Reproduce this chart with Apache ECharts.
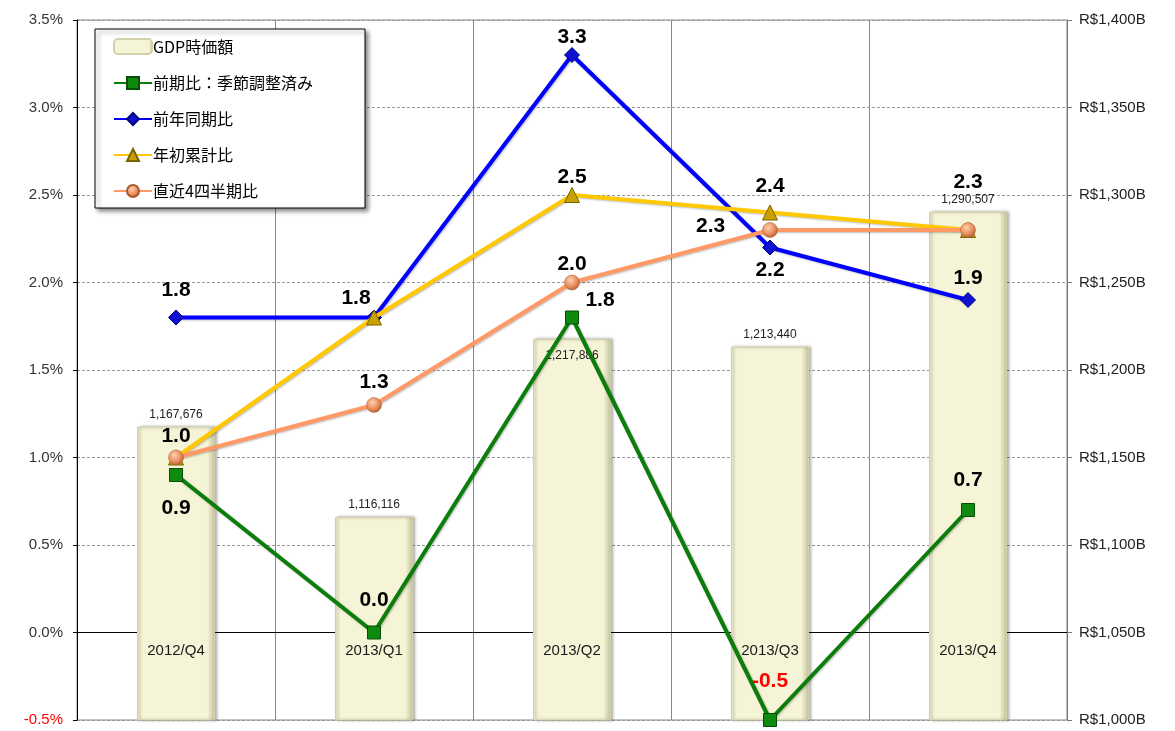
<!DOCTYPE html>
<html>
<head>
<meta charset="utf-8">
<script src="https://cdn.jsdelivr.net/npm/echarts@6/dist/echarts.min.js"></script>
<style>
html, body { margin: 0; padding: 0; background: #fff; }
#chart { width: 1175px; height: 731px; }
</style>
</head>
<body>
<div id="chart"></div>
<script>
// 四半期
var quarters = ['2012/Q4', '2013/Q1', '2013/Q2', '2013/Q3', '2013/Q4'];
// GDP時価額 (R$ 百万)
var gdpValues = [1167676, 1116116, 1217886, 1213440, 1290507];
// 前期比：季節調整済み
var qoqSa = [0.9, 0.0, 1.8, -0.5, 0.7];
// 前年同期比
var yoy = [1.8, 1.8, 3.3, 2.2, 1.9];
// 年初累計比
var ytd = [1.0, 1.8, 2.5, 2.4, 2.3];
// 直近4四半期比
var last4q = [1.0, 1.3, 2.0, 2.3, 2.3];

var font = '"Liberation Sans", Arial, "Noto Sans CJK JP", sans-serif';

var lbl = function (pos, extra) {
    return Object.assign({
        show: true,
        position: pos,
        fontFamily: font,
        fontSize: 21,
        fontWeight: 'bold',
        color: '#000',
        formatter: function (p) { return p.value.toFixed(1); }
    }, extra || {});
};

function withLabels(values, labels) {
    return values.map(function (v, i) {
        return { value: v, label: labels[i] };
    });
}

var chart = echarts.init(document.getElementById('chart'));

chart.setOption({
    animation: false,
    textStyle: { fontFamily: font },
    grid: {
        left: 77, right: 108, top: 20, bottom: 11,
        containLabel: false,
        outerBoundsMode: 'none',
        show: true, borderColor: '#888', borderWidth: 1
    },
    legend: {
        orient: 'vertical',
        left: 95,
        top: 29,
        width: 270,
        padding: [9, 52, 9, 18],
        itemGap: 20,
        itemWidth: 38,
        itemHeight: 15,
        backgroundColor: '#fff',
        borderColor: '#000',
        borderWidth: 1,
        shadowColor: 'rgba(0,0,0,0.45)',
        shadowBlur: 4,
        shadowOffsetX: 3,
        shadowOffsetY: 3,
        textStyle: { fontSize: 16, color: '#000', fontFamily: '"Noto Sans CJK JP", "Liberation Sans", sans-serif', padding: [0, 0, 0, -4] },
        data: ['GDP時価額', '前期比：季節調整済み', '前年同期比', '年初累計比', '直近4四半期比']
    },
    xAxis: {
        type: 'category',
        data: quarters,
        boundaryGap: true,
        axisLine: { onZero: true, lineStyle: { color: '#000', width: 1 } },
        axisTick: { show: false },
        axisLabel: { show: false },
        splitLine: { show: true, lineStyle: { color: '#888', width: 1 } }
    },
    yAxis: [{
        type: 'value',
        min: -0.5,
        max: 3.5,
        interval: 0.5,
        axisLine: { show: true, onZero: false, lineStyle: { color: '#000' } },
        axisTick: { show: true, length: 4, lineStyle: { color: '#000' } },
        axisLabel: {
            fontSize: 15,
            margin: 14,
            formatter: function (v) { return v.toFixed(1) + '%'; },
            color: function (v) { return v < 0 ? '#ff0000' : '#333'; }
        },
        splitLine: { show: true, lineStyle: { color: '#999', type: [3, 2], width: 1 } }
    }, {
        type: 'value',
        min: 1000000,
        max: 1400000,
        interval: 50000,
        position: 'right',
        axisLine: { show: true, onZero: false, lineStyle: { color: '#777' } },
        axisTick: { show: true, length: 5, lineStyle: { color: '#777' } },
        axisLabel: {
            fontSize: 15,
            margin: 12,
            color: '#222',
            formatter: function (v) { return 'R$' + (v / 1000).toLocaleString('en-US') + 'B'; }
        },
        splitLine: { show: false }
    }],
    series: [{
        name: 'GDP時価額',
        type: 'bar',
        yAxisIndex: 1,
        barWidth: 78,
        clip: true,
        z: 1,
        itemStyle: {
            color: new echarts.graphic.LinearGradient(0, 0, 1, 0, [
                { offset: 0, color: '#ecebca' },
                { offset: 0.06, color: '#f5f4d6' },
                { offset: 0.9, color: '#f5f4d6' },
                { offset: 1, color: '#c2c19c' }
            ]),
            borderColor: '#d2d1aa',
            borderWidth: 1,
            shadowColor: 'rgba(0,0,0,0.3)',
            shadowBlur: 3,
            shadowOffsetX: 2
        },
        label: {
            show: true,
            position: 'top',
            distance: 6,
            fontSize: 12,
            color: '#222',
            formatter: function (p) { return p.value.toLocaleString('en-US'); }
        },
        data: gdpValues.map(function (v, i) {
            return i === 2 ? { value: v, label: { position: 'insideTop', distance: 11 } } : v;
        })
    }, {
        // 0%線のすぐ下に四半期名を出す (軸ラベルの代わり)
        name: 'quarterLabels',
        type: 'scatter',
        silent: true,
        symbolSize: 0,
        z: 3,
        itemStyle: { opacity: 1 },
        label: {
            show: true,
            position: 'bottom',
            distance: 11,
            fontSize: 15,
            color: '#1a1a1a',
            opacity: 1,
            formatter: function (p) { return quarters[p.dataIndex]; }
        },
        data: quarters.map(function () { return 0; })
    }, {
        name: '前期比：季節調整済み',
        type: 'line',
        z: 5,
        symbol: 'rect',
        symbolSize: 13,
        lineStyle: { color: '#0a7d0a', width: 4, shadowColor: 'rgba(0,0,0,0.25)', shadowBlur: 2, shadowOffsetX: 1, shadowOffsetY: 1 },
        itemStyle: { color: '#0e8a0e', borderColor: '#064d06', borderWidth: 1 },
        data: withLabels(qoqSa, [
            lbl('bottom', { distance: 16 }),
            lbl('top', { distance: 15 }),
            lbl('top', { offset: [28, 2], distance: 2 }),
            lbl('top', { distance: 21, color: '#ff0000' }),
            lbl('top', { distance: 12 })
        ])
    }, {
        name: '前年同期比',
        type: 'line',
        z: 6,
        symbol: 'diamond',
        symbolSize: 15,
        lineStyle: { color: '#0000ff', width: 4, shadowColor: 'rgba(0,0,0,0.25)', shadowBlur: 2, shadowOffsetX: 1, shadowOffsetY: 1 },
        itemStyle: { color: '#1010d0', borderColor: '#000080', borderWidth: 1 },
        data: withLabels(yoy, [
            lbl('top', { distance: 9 }),
            lbl('top', { distance: 1, offset: [-18, 0] }),
            lbl('top', { distance: -1 }),
            lbl('bottom', { distance: 4 }),
            lbl('top', { distance: 3 })
        ])
    }, {
        name: '年初累計比',
        type: 'line',
        z: 7,
        symbol: 'triangle',
        symbolSize: 15,
        lineStyle: { color: '#ffc800', width: 4, shadowColor: 'rgba(0,0,0,0.25)', shadowBlur: 2, shadowOffsetX: 1, shadowOffsetY: 1 },
        itemStyle: { color: '#c8a000', borderColor: '#7a6200', borderWidth: 1 },
        data: withLabels(ytd, [
            lbl('top', { distance: 3 }),
            { show: false },
            lbl('top', { distance: -1 }),
            lbl('top', { distance: 8 }),
            lbl('top', { distance: 29 })
        ])
    }, {
        name: '直近4四半期比',
        type: 'line',
        z: 8,
        symbol: 'circle',
        symbolSize: 15,
        lineStyle: { color: '#ff9966', width: 4, shadowColor: 'rgba(0,0,0,0.25)', shadowBlur: 2, shadowOffsetX: 1, shadowOffsetY: 1 },
        itemStyle: {
            color: new echarts.graphic.RadialGradient(0.4, 0.35, 0.7, [
                { offset: 0, color: '#ffd0b0' },
                { offset: 0.6, color: '#e98c5a' },
                { offset: 1, color: '#a85a30' }
            ]),
            borderColor: '#a85a30',
            borderWidth: 0.5
        },
        data: withLabels(last4q, [
            { show: false },
            lbl('top', { distance: 5 }),
            lbl('top', { distance: 0 }),
            lbl('left', { distance: 37, offset: [0, -4] }),
            { show: false }
        ])
    }]
});
</script>
</body>
</html>
